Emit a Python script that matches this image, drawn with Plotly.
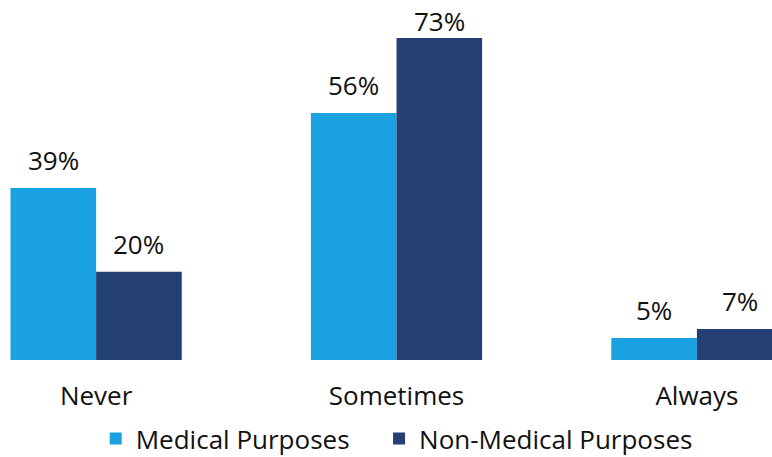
import plotly.graph_objects as go

categories = ["Never", "Sometimes", "Always"]
medical = [39, 56, 5]
non_medical = [20, 73, 7]
series_names = ["Medical Purposes", "Non-Medical Purposes"]
colors = ["#1aa1e1", "#233f74"]

FONT = "Open Sans, Noto Sans, sans-serif"
BARGAP = 0.43
half = (1 - BARGAP) / 4  # offset of each bar centre from the category centre
YMAX = 81.6

fig = go.Figure()
for name, vals, col, leg in zip(series_names, [medical, non_medical], colors,
                                ["legend", "legend2"]):
    fig.add_trace(go.Bar(
        x=categories, y=vals, name=name, legend=leg,
        marker=dict(color=col, line=dict(width=0)),
        cliponaxis=False,
    ))

for sign, vals in zip([-1, 1], [medical, non_medical]):
    for i, v in enumerate(vals):
        # labels near the top of the plot are pulled down to stay inside
        shift = 8 if v < 0.85 * YMAX else -3
        fig.add_annotation(
            x=i + sign * half, y=v, xref="x", yref="y",
            text=f"{v}%", showarrow=False, yanchor="bottom", yshift=shift,
            font=dict(size=26, color="#111111", family=FONT),
        )

legend_style = dict(orientation="h", xanchor="left", yref="container",
                    y=0.04, yanchor="middle",
                    font=dict(size=26, family=FONT, color="#111111"))

fig.update_layout(
    width=772, height=457,
    margin=dict(l=0, r=0, t=0, b=97, autoexpand=False),
    paper_bgcolor="white", plot_bgcolor="white",
    barmode="group", bargap=BARGAP, bargroupgap=0,
    font=dict(family=FONT, size=26, color="#111111"),
    showlegend=True,
    legend=dict(x=0.124, **legend_style),
    legend2=dict(x=0.491, **legend_style),
    xaxis=dict(range=[-0.32, 2.25], showgrid=False, showline=False, zeroline=False,
               ticks="", tickfont=dict(size=26), ticklabelstandoff=18, automargin=False),
    yaxis=dict(range=[0, YMAX], visible=False, automargin=False),
)

fig.write_html("out.html")
